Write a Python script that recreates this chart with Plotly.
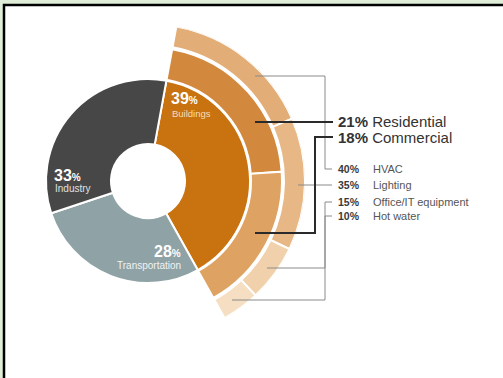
import math
import plotly.graph_objects as go

# ---- data ----
sector_labels = ["Buildings", "Transportation", "Industry"]
sector_values = [39, 28, 33]
building_labels = ["Residential", "Commercial"]
building_values = [21, 18]
enduse_labels = ["HVAC", "Lighting", "Office/IT equipment", "Hot water"]
enduse_shares = [40, 35, 15, 10]   # % of buildings energy

# ---- layout constants ----
W, H = 503, 378
CX, CY = 148, 181
FONT = "Liberation Sans, Arial, sans-serif"
START = 10.4          # start angle, degrees clockwise from 12 o'clock
R_IN, R_IN_HOLE = 102, 37
R_MID0, R_MID1 = 103, 134
R_OUT0, R_OUT1 = 136, 157

def X(px):
    return px / W

def Y(py):
    return 1 - py / H

total = sum(sector_values)
deg_per = 360 / total

fig = go.Figure()

# inner ring
fig.add_trace(go.Pie(
    values=sector_values, labels=sector_labels, sort=False, direction="clockwise",
    rotation=START, hole=R_IN_HOLE / R_IN,
    domain=dict(x=[X(CX - R_IN), X(CX + R_IN)], y=[Y(CY + R_IN), Y(CY - R_IN)]),
    marker=dict(colors=["#c8730f", "#8fa2a6", "#474747"], line=dict(color="white", width=2)),
    textinfo="none", hoverinfo="skip", showlegend=False,
))

def ring(values, base, outer, colors, names):
    thetas, widths = [], []
    acc = START
    for v in values:
        w = v * deg_per
        thetas.append(acc + w / 2)
        widths.append(w)
        acc += w
    fig.add_trace(go.Barpolar(
        theta=thetas, width=widths, r=[outer - base] * len(values), base=[base] * len(values),
        marker=dict(color=colors, line=dict(color="white", width=2)),
        text=names, hoverinfo="skip", showlegend=False, subplot="polar",
    ))

ring(building_values, R_MID0, R_MID1, ["#d3893d", "#dea262"], building_labels)
bld_total = sector_values[0]
enduse_values = [s / 100 * bld_total for s in enduse_shares]
ring(enduse_values, R_OUT0, R_OUT1, ["#e2ad76", "#e7b886", "#f1d1ab", "#f5dec2"], enduse_labels)

sec = [-62, 81]
ytop = math.sin(math.radians(sec[1]))
ybot = math.sin(math.radians(sec[0]))

shapes = []
shapes.append(dict(type="rect", xref="paper", yref="paper",
                   x0=X(4), x1=X(W + 10), y0=Y(H + 10), y1=Y(5),
                   fillcolor="white", line=dict(color="black", width=2.5), layer="below"))

def path(points, color, width):
    d = "M " + " L ".join(f"{X(px)},{Y(py)}" for px, py in points)
    shapes.append(dict(type="path", xref="paper", yref="paper", path=d,
                       line=dict(color=color, width=width)))

GRAY = "#8a8a8a"
DARK = "#2a2a2a"
path([(255, 76), (325, 76), (325, 169), (332, 169)], GRAY, 1)        # HVAC
path([(298, 185), (332, 185)], GRAY, 1)                               # Lighting
path([(267, 268), (325, 268), (325, 202), (332, 202)], GRAY, 1)       # Office/IT
path([(232, 300), (325, 300), (325, 216), (332, 216)], GRAY, 1)       # Hot water
path([(255, 122), (333, 122)], DARK, 2)                               # Residential
path([(255, 233), (315, 233), (315, 137), (333, 137)], DARK, 2)       # Commercial

ann = []
def text(px, py, t, size, color, anchor="left", bold=False):
    ann.append(dict(xref="paper", yref="paper", x=X(px), y=Y(py), text=(f"<b>{t}</b>" if bold else t),
                    showarrow=False, xanchor=anchor, yanchor="middle",
                    font=dict(family=FONT, size=size, color=color)))

pct = lambda v: f"<b>{v}<span style='font-size:10px'>%</span></b>"
text(169, 99, pct(sector_values[0]), 16, "white")
text(170, 113, sector_labels[0], 9.5, "#f6dcb8")
text(52, 175, pct(sector_values[2]), 16, "white")
text(53, 188, sector_labels[2], 10, "#e0e0e0")
text(183, 251, pct(sector_values[1]), 16, "white", anchor="right")
text(183, 265, sector_labels[1], 10, "#f0f4f4", anchor="right")

for i, yy in enumerate([121.5, 137.5]):
    ann.append(dict(xref="paper", yref="paper", x=X(336), y=Y(yy),
                    text=f"<b>{building_values[i]}%</b> {building_labels[i]}",
                    showarrow=False, xanchor="left", yanchor="middle",
                    font=dict(family=FONT, size=15, color="#333333")))

for i, yy in enumerate([169, 185, 202, 216]):
    text(336, yy, f"{enduse_shares[i]}%", 10.5, "#3a3a3a", bold=True)
    text(371, yy, enduse_labels[i], 11, "#555555")

fig.update_layout(
    width=W, height=H, margin=dict(l=0, r=0, t=0, b=0),
    paper_bgcolor="#e0eed9",
    polar=dict(
        domain=dict(x=[X(CX), X(CX + R_OUT1)], y=[Y(CY - ybot * R_OUT1), Y(CY - ytop * R_OUT1)]),
        sector=sec, hole=0, bgcolor="rgba(0,0,0,0)",
        radialaxis=dict(range=[0, R_OUT1], visible=False, showgrid=False, showline=False),
        angularaxis=dict(rotation=90, direction="clockwise", visible=False,
                         showgrid=False, showline=False),
    ),
    shapes=shapes, annotations=ann, showlegend=False,
)
fig.write_html("out.html")
